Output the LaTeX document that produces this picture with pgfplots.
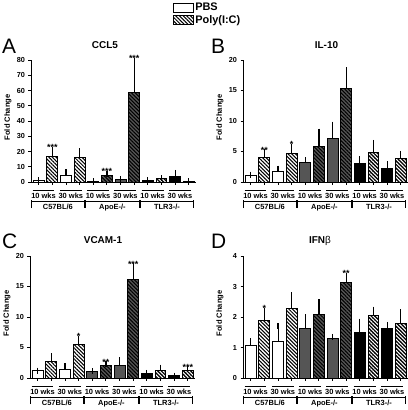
\documentclass[border=0pt]{standalone}
\usepackage{fontspec}
\setmainfont{Liberation Sans}
\usepackage{pgfplots}
\pgfplotsset{compat=1.18}
\usetikzlibrary{patterns.meta}
\definecolor{apogray}{RGB}{85,85,85}

\tikzset{
  hatchblk/.style={postaction={pattern={Lines[angle=-45,distance=2.6bp,line width=1.05bp]},pattern color=black}},
  hatchwht/.style={postaction={pattern={Lines[angle=-45,distance=2.6bp,line width=1.05bp]},pattern color=white}},
  lw/.style={line width=1bp,black},
  lab/.style={anchor=base,inner sep=0pt,font=\bfseries\fontsize{7.5}{8}\selectfont},
  star/.style={anchor=base,inner sep=0pt,yshift=-0.8bp,font=\bfseries\fontsize{9}{10}\selectfont},
}
\pgfplotsset{
  panel/.style={
    scale only axis, width=164.6bp, height=122bp,
    xmin=-0.57, xmax=11.5, ymin=0,
    axis x line*=bottom, axis y line*=left,
    axis line style={line width=1bp},
    tick style={line width=1bp, black},
    tick align=outside, major tick length=2.5bp,
    xtick={0,...,11}, xticklabels={},
    ybar, bar width=0.8, bar shift=0pt,
    clip=false,
    ylabel={Fold Change},
    ylabel style={font=\bfseries\fontsize{7.6}{8}\selectfont, at={(axis description cs:-0.14,0.53)}, anchor=center},
    yticklabel style={font=\bfseries\fontsize{7.3}{8}\selectfont},
    /pgf/number format/assume math mode=true,
  },
  eb/.style={draw=black, line width=1bp,
    error bars/y dir=plus, error bars/y explicit,
    error bars/error bar style={line width=1.1bp, black},
    error bars/error mark options={black, line width=1.1bp, mark size=3bp}},
  boxlegend/.style={legend image code/.code={\draw[##1,line width=1bp] (0bp,-4.5bp) rectangle (20bp,4.5bp);}},
}
\newcommand\pr[4]{%
  \draw[lw] ([yshift=-8.6bp]axis cs:#1,0) -- ([yshift=-8.6bp]axis cs:#2,0);
  \node[lab] at ([yshift=-16.5bp]axis cs:#3,0) {#4};}
\newcommand\grp[4]{%
  \draw[lw] ([yshift=-26bp]axis cs:#1,0) -- ([yshift=-18.3bp]axis cs:#1,0);
  \draw[lw] ([yshift=-19.3bp]axis cs:#1,0) -- ([yshift=-19.3bp]axis cs:#2,0);
  \draw[lw] ([yshift=-18.3bp]axis cs:#2,0) -- ([yshift=-26bp]axis cs:#2,0);
  \node[lab] at ([yshift=-27.5bp]axis cs:#3,0) {#4};}
\newcommand\decor{%
  \pr{-0.45}{1.15}{0.35}{10 wks}
  \pr{1.55}{3.15}{2.35}{30 wks}
  \pr{3.55}{5.15}{4.35}{10 wks}
  \pr{5.55}{7.15}{6.35}{30 wks}
  \pr{7.55}{9.15}{8.35}{10 wks}
  \pr{9.55}{11.15}{10.35}{30 wks}
  \grp{-0.55}{3.35}{1.4}{C57BL/6}
  \grp{3.45}{7.35}{5.4}{ApoE-/-}
  \grp{7.45}{11.35}{9.4}{TLR3-/-}}

\begin{document}
\begin{tikzpicture}
\useasboundingbox (0,0) rectangle (408bp,-410bp);

% ---------- A: CCL5 ----------
\begin{axis}[panel, at={(31bp,-182bp)}, anchor=south west,
  ymax=80, ytick={0,10,...,80},
  legend style={at={(axis description cs:0.863,1.475)}, anchor=north west,
    draw=none, fill=none, inner sep=0pt, row sep=1bp,
    font=\bfseries\fontsize{11}{12}\selectfont,
    nodes={inner sep=1bp}, cells={anchor=west},
    /tikz/every even column/.append style={column sep=2bp}},
  ]
\addplot[eb, fill=white, boxlegend]
  coordinates {(0,1.0) +- (0,0.3) (2,4.3) +- (0,2.0)};
\addlegendentry{PBS}
\addplot[eb, fill=white, hatchblk, boxlegend]
  coordinates {(1,16.4) +- (0,4.5) (3,16.0) +- (0,4.2)};
\addlegendentry{Poly(I:C)}
\addplot[eb, fill=apogray] coordinates {(4,0.3) +- (0,0.1) (6,1.5) +- (0,0.5)};
\addplot[eb, fill=apogray, hatchblk] coordinates {(5,4.5) +- (0,0.7) (7,59) +- (0,20.5)};
\addplot[eb, fill=black] coordinates {(8,0.8) +- (0,0.2) (10,3.7) +- (0,2.3)};
\addplot[eb, fill=black, hatchwht] coordinates {(9,2.0) +- (0,0.6) (11,0.5) +- (0,0.1)};
\node[star] at (axis cs:1,20.9) {***};
\node[star] at (axis cs:5,5.2) {***};
\node[star] at (axis cs:7,79.5) {***};
\decor
\end{axis}

% ---------- B: IL-10 ----------
\begin{axis}[panel, at={(243bp,-182bp)}, anchor=south west,
  ymax=20, ytick={0,5,...,20}]
\addplot[eb, fill=white] coordinates {(0,1.05) +- (0,0.15) (2,1.8) +- (0,0.4)};
\addplot[eb, fill=white, hatchblk] coordinates {(1,4.0) +- (0,0.85) (3,4.65) +- (0,1.1)};
\addplot[eb, fill=apogray] coordinates {(4,3.15) +- (0,0.45) (6,7.1) +- (0,2.3)};
\addplot[eb, fill=apogray, hatchblk] coordinates {(5,5.75) +- (0,2.5) (7,15.3) +- (0,3.0)};
\addplot[eb, fill=black] coordinates {(8,3.1) +- (0,0.6) (10,2.2) +- (0,0.7)};
\addplot[eb, fill=black, hatchwht] coordinates {(9,4.8) +- (0,1.6) (11,3.8) +- (0,0.8)};
\node[star] at (axis cs:1,4.85) {**};
\node[star] at (axis cs:3,5.75) {*};
\decor
\end{axis}

% ---------- C: VCAM-1 ----------
\begin{axis}[panel, at={(30bp,-378bp)}, anchor=south west,
  ymax=20, ytick={0,5,...,20}]
\addplot[eb, fill=white] coordinates {(0,1.15) +- (0,0.05) (2,1.4) +- (0,0.5)};
\addplot[eb, fill=white, hatchblk] coordinates {(1,2.7) +- (0,0.9) (3,5.5) +- (0,0.9)};
\addplot[eb, fill=apogray] coordinates {(4,1.0) +- (0,0.1) (6,2.0) +- (0,0.9)};
\addplot[eb, fill=apogray, hatchblk] coordinates {(5,2.05) +- (0,0.2) (7,16.1) +- (0,2.2)};
\addplot[eb, fill=black] coordinates {(8,0.75) +- (0,0.1) (10,0.35) +- (0,0.05)};
\addplot[eb, fill=black, hatchwht] coordinates {(9,1.2) +- (0,0.5) (11,1.3) +- (0,0.1)};
\node[star] at (axis cs:3,6.4) {*};
\node[star] at (axis cs:5,2.25) {**};
\node[star] at (axis cs:7,18.3) {***};
\node[star] at (axis cs:11,1.4) {***};
\decor
\end{axis}

% ---------- D: IFNb ----------
\begin{axis}[panel, at={(243bp,-378bp)}, anchor=south west,
  ymax=4, ytick={0,1,...,4}]
\addplot[eb, fill=white] coordinates {(0,1.08) +- (0,0.12) (2,1.19) +- (0,0.5)};
\addplot[eb, fill=white, hatchblk] coordinates {(1,1.9) +- (0,0.3) (3,2.27) +- (0,0.44)};
\addplot[eb, fill=apogray] coordinates {(4,1.63) +- (0,0.37) (6,1.28) +- (0,0.07)};
\addplot[eb, fill=apogray, hatchblk] coordinates {(5,2.07) +- (0,0.42) (7,3.13) +- (0,0.21)};
\addplot[eb, fill=black] coordinates {(8,1.5) +- (0,0.35) (10,1.62) +- (0,0.12)};
\addplot[eb, fill=black, hatchwht] coordinates {(9,2.04) +- (0,0.2) (11,1.78) +- (0,0.37)};
\node[star] at (axis cs:1,2.2) {*};
\node[star] at (axis cs:7,3.34) {**};
\decor
\end{axis}

% titles and panel letters
\tikzset{ttl/.style={anchor=base,inner sep=0pt,font=\bfseries\fontsize{10}{12}\selectfont},
         let/.style={anchor=base west,inner sep=0pt,font=\fontsize{21}{24}\selectfont}}
\node[ttl] at (105bp,-48.6bp) {CCL5};
\node[ttl] at (326.5bp,-48.6bp) {IL-10};
\node[ttl] at (103bp,-243.6bp) {VCAM-1};
\node[ttl] at (320bp,-243.6bp) {IFN\textmd{β}};
\node[let] at (2bp,-53bp) {A};
\node[let] at (211bp,-53bp) {B};
\node[let] at (2bp,-248bp) {C};
\node[let] at (211bp,-248bp) {D};
\end{tikzpicture}
\end{document}
